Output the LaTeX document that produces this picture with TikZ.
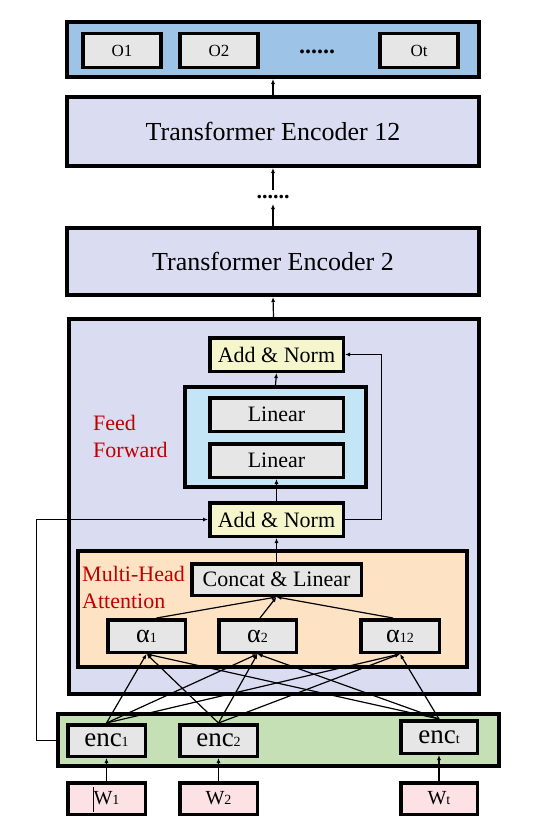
\documentclass[tikz,border=0pt]{standalone}
\usepackage{fontspec}
\setmainfont{Liberation Serif}
\usetikzlibrary{arrows.meta,calc}
\definecolor{topblue}{HTML}{9DC3E6}
\definecolor{lav}{HTML}{DADDF1}
\definecolor{boxgray}{HTML}{E6E6E6}
\definecolor{anyellow}{HTML}{F6F6CC}
\definecolor{ffblue}{HTML}{C4E5F5}
\definecolor{peach}{HTML}{FDE3C3}
\definecolor{encgreen}{HTML}{C5E0B4}
\definecolor{wpink}{HTML}{FCE2E5}
\definecolor{labred}{HTML}{C00000}
\newcommand\fs[1]{\fontsize{#1}{#1}\selectfont}
\newcommand\smsub[1]{{\fs{14}#1}}
\tikzset{
  bigbox/.style={draw, line width=4pt, inner sep=0pt},
  smallbox/.style={draw, line width=3.5pt, inner sep=0pt, fill=boxgray},
  arr/.style={-{Latex[length=5pt,width=4pt]}, line width=1.2pt},
  thinarr/.style={-{Latex[length=5pt,width=4pt]}, line width=1pt},
  redlab/.style={text=labred, align=left, anchor=west, inner sep=0pt, font=\fontsize{22}{27}\selectfont},
}
\begin{document}
\begin{tikzpicture}[x=1pt,y=-1pt]
\useasboundingbox[fill=white] (0,0) rectangle (560,831);

% output layer
\node[bigbox, fill=topblue, minimum width=412pt, minimum height=55pt] (outbox) at (273,49.5) {};
\node[smallbox, minimum width=78pt, minimum height=34pt, font=\fs{17}] (o1) at (122,50.5) {\raisebox{-3pt}{O1}};
\node[smallbox, minimum width=78pt, minimum height=34pt, font=\fs{17}] (o2) at (219,50.5) {\raisebox{-3pt}{O2}};
\node[smallbox, minimum width=78pt, minimum height=34pt, font=\fs{17}] (ot) at (419,50.5) {\raisebox{-3pt}{Ot}};
\node[inner sep=0pt, font=\bfseries\fs{24}] (odots) at (317,52) {......};

% transformer encoders
\node[bigbox, fill=lav, minimum width=412pt, minimum height=69pt, font=\fs{26}] (te12) at (273,131.5) {Transformer Encoder 12};
\node[bigbox, fill=lav, minimum width=412pt, minimum height=67pt, font=\fs{26}] (te2) at (273,261.5) {Transformer Encoder 2};
\node[inner sep=0pt, font=\bfseries\fs{22}] (mdots) at (273,197.5) {......};
\coordinate (dtop) at (273,190);
\coordinate (dbot) at (273,204);

% encoder 1 (big box)
\node[bigbox, fill=lav, minimum width=410pt, minimum height=375pt] (big) at (273.5,506.5) {};

\node[smallbox, fill=anyellow, minimum width=133.5pt, minimum height=33.5pt, font=\fs{22}] (antop) at (276.5,354.5) {Add \& Norm};
\node[bigbox, fill=ffblue, minimum width=181pt, minimum height=100pt] (ff) at (275.5,437) {};
\node[smallbox, minimum width=133.5pt, minimum height=33.5pt, font=\fs{22}] (lin1) at (276.5,414.5) {Linear};
\node[smallbox, minimum width=133.5pt, minimum height=33.5pt, font=\fs{22}] (lin2) at (276.5,460.5) {Linear};
\node[smallbox, fill=anyellow, minimum width=133.5pt, minimum height=33.5pt, font=\fs{22}] (anbot) at (276.5,519.5) {Add \& Norm};
\node[redlab] (fflab) at (93,436) {Feed\\Forward};

% multi-head attention
\node[bigbox, fill=peach, minimum width=389pt, minimum height=116pt] (mha) at (272.5,609) {};
\node[smallbox, minimum width=169.5pt, minimum height=31.5pt, font=\fs{22}] (concat) at (276.5,579.5) {Concat \& Linear};
\node[redlab] (mhalab) at (82,587) {Multi-Head\\Attention};
\node[smallbox, minimum width=77.5pt, minimum height=32.5pt, font=\fs{26}] (a1) at (146.5,636) {α\smsub{1}};
\node[smallbox, minimum width=77.5pt, minimum height=32.5pt, font=\fs{26}] (a2) at (257.5,636) {α\smsub{2}};
\node[smallbox, minimum width=78.5pt, minimum height=32.5pt, font=\fs{26}] (a12) at (400,636) {α\smsub{12}};

% embeddings
\node[bigbox, fill=encgreen, minimum width=441pt, minimum height=52pt] (green) at (278.5,740) {};
\node[smallbox, minimum width=77.5pt, minimum height=31.5pt, font=\fs{27}] (e1) at (106.5,740.5) {enc\smsub{1}};
\node[smallbox, minimum width=77.5pt, minimum height=31.5pt, font=\fs{27}] (e2) at (218.5,740.5) {enc\smsub{2}};
\node[smallbox, minimum width=76.5pt, minimum height=32.5pt, font=\fs{27}] (et) at (439,737) {enc\smsub{t}};

\node[smallbox, fill=wpink, minimum width=77.5pt, minimum height=31.5pt, font=\fs{20}] (w1) at (106.5,798.5) {W\smsub{1}};
\node[smallbox, fill=wpink, minimum width=77.5pt, minimum height=31.5pt, font=\fs{20}] (w2) at (218.5,798.5) {W\smsub{2}};
\node[smallbox, fill=wpink, minimum width=76.5pt, minimum height=31.5pt, font=\fs{20}] (wt) at (439,798.5) {W\smsub{t}};
\draw[line width=0.7pt] ($(w1.center)+(-13.5,-12)$) -- ($(w1.center)+(-13.5,13)$);

% connectors
\draw[arr] (te12.north) -- (outbox.south);
\draw[arr] (dtop) -- (te12.south);
\draw[arr] (te2.north) -- (dbot);
\draw[arr] (big.north) -- (te2.south);
\draw[arr] (ff.north) -- (antop.south);
\draw[arr] (anbot.north) -- (lin2.south);
\draw[arr] (concat.north) -- (anbot.south);
\coordinate (skipx) at (381,0);
\coordinate (leftx) at (36,0);
\draw[thinarr] (anbot.east) -- (anbot.east -| skipx) |- (antop.east);
\draw[thinarr] (green.west) -- (green.west -| leftx) |- (anbot.west);

\draw[arr] ([xshift=10pt]a1.north) -- (concat.south);
\draw[arr] ([xshift=2.5pt]a2.north) -- (concat.south);
\draw[arr] ([xshift=-7pt]a12.north) -- (concat.south);

\foreach \e in {e1,e2,et}{
  \foreach \a in {a1,a2,a12}{
    \draw[arr] (\e.north) -- (\a.south);
  }
}
\draw[arr] (w1.north) -- (e1.south);
\draw[arr] (w2.north) -- (e2.south);
\draw[arr] (wt.north) -- (et.south);
\end{tikzpicture}
\end{document}
